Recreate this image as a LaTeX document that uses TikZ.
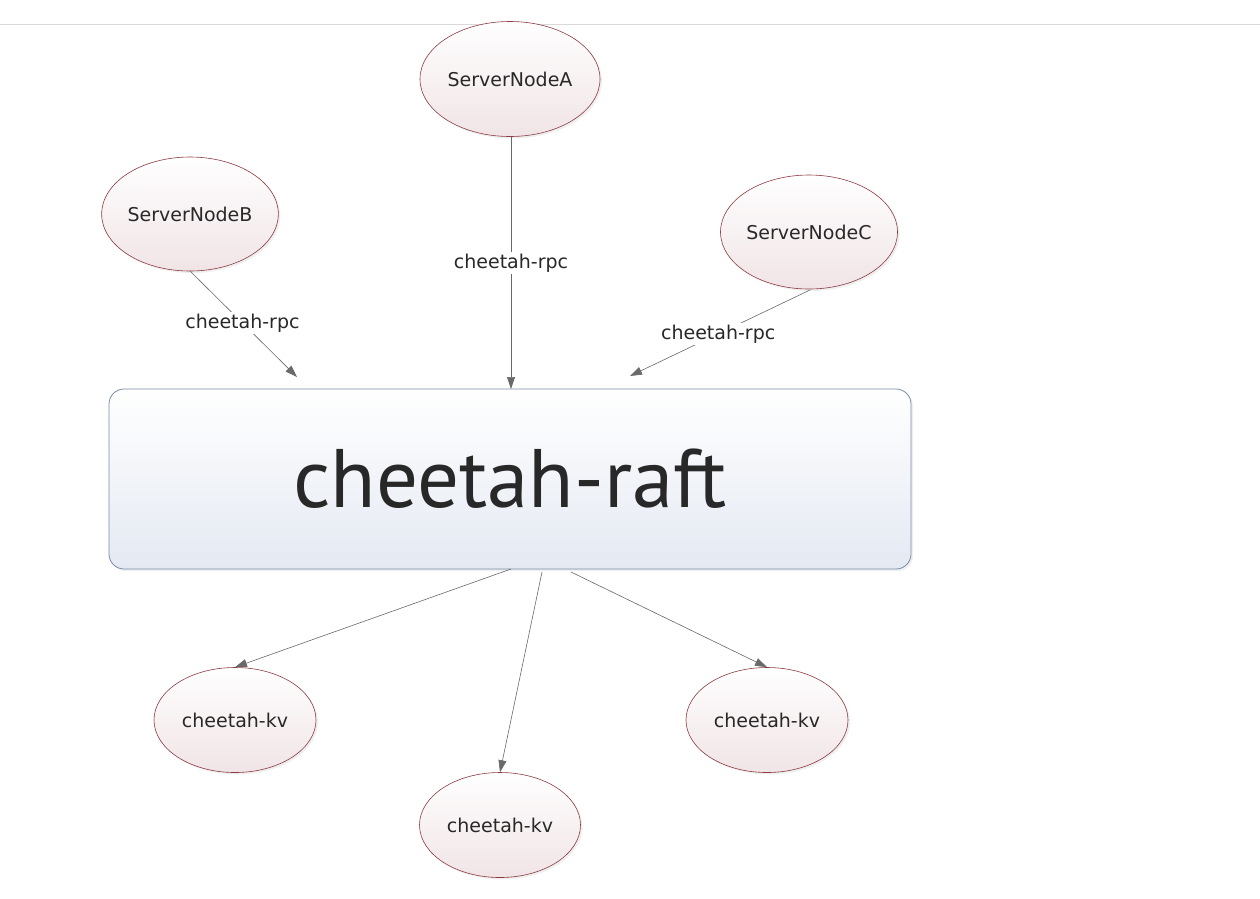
\documentclass[tikz,border=0pt]{standalone}
\usepackage{fontspec}
\setmainfont{DejaVu Sans}
\newfontfamily\raftfont{PT Sans}
\usetikzlibrary{shapes.geometric,arrows.meta,shadows}
\definecolor{ellborder}{RGB}{140,60,66}
\definecolor{ellbot}{RGB}{240,228,230}
\definecolor{rectborder}{RGB}{120,140,168}
\definecolor{rectbot}{RGB}{228,233,242}
\definecolor{arrowgray}{RGB}{105,105,105}
\definecolor{txt}{RGB}{40,40,40}
\tikzset{
  ell/.style={ellipse, draw=ellborder, line width=0.6pt, top color=white, bottom color=ellbot,
    inner sep=0pt, text=txt, font=\fontsize{19}{22}\selectfont,
    drop shadow={opacity=0.12, shadow xshift=2pt, shadow yshift=-2pt}},
  raftbox/.style={rectangle, rounded corners=15pt, draw=rectborder, line width=0.8pt,
    top color=white, bottom color=rectbot, minimum width=802pt, minimum height=180pt,
    text=txt, font=\raftfont\fontsize{83}{88}\selectfont,
    drop shadow={opacity=0.12, shadow xshift=2pt, shadow yshift=-2pt}},
  conn/.style={draw=arrowgray, line width=0.6pt, -{Triangle[length=12pt,width=8pt]}},
  lbl/.style={fill=white, inner sep=2pt, text=txt, font=\fontsize{19}{22}\selectfont}
}
\begin{document}
\begin{tikzpicture}[x=1pt,y=-1pt]
\useasboundingbox (0,0) rectangle (1260,898);
\fill[white] (0,0) rectangle (1260,898);
\coordinate (tl) at (0,24);
\coordinate (tr) at (1260,24);
\draw[black!15, line width=0.8pt] (tl) -- (tr);

\node[ell, minimum width=180pt, minimum height=115pt] (A) at (510,79) {ServerNodeA};
\node[ell, minimum width=176pt, minimum height=114pt] (B) at (190,214) {ServerNodeB};
\node[ell, minimum width=176pt, minimum height=114pt] (C) at (809,232) {ServerNodeC};

\node[raftbox] (raft) at (510,479) {\raisebox{-4pt}{cheetah-raft}};

\node[ell, minimum width=162pt, minimum height=105pt] (kv1) at (235,720) {cheetah-kv};
\node[ell, minimum width=161pt, minimum height=105pt] (kv2) at (500,825) {cheetah-kv};
\node[ell, minimum width=162pt, minimum height=105pt] (kv3) at (767,720) {cheetah-kv};

\coordinate (Bend) at (297,377);
\coordinate (Cend) at (630,376);
\coordinate (Aend) at (511,389);
\coordinate (s1) at (511,569);
\coordinate (s2) at (542,572);
\coordinate (s3) at (571,572);
\coordinate (Atop) at (511,137);
\coordinate (Bst) at (190,271);
\coordinate (Cst) at (810,290);

\draw[conn] (Atop) -- node[lbl, pos=0.5] {cheetah-rpc} (Aend);
\draw[conn] (Bst) -- node[lbl, pos=0.49] {cheetah-rpc} (Bend);
\draw[conn] (Cst) -- node[lbl, pos=0.51] {cheetah-rpc} (Cend);

\draw[conn] (s1) -- (kv1.north);
\draw[conn] (s2) -- (kv2.north);
\draw[conn] (s3) -- (kv3.north);
\end{tikzpicture}
\end{document}
